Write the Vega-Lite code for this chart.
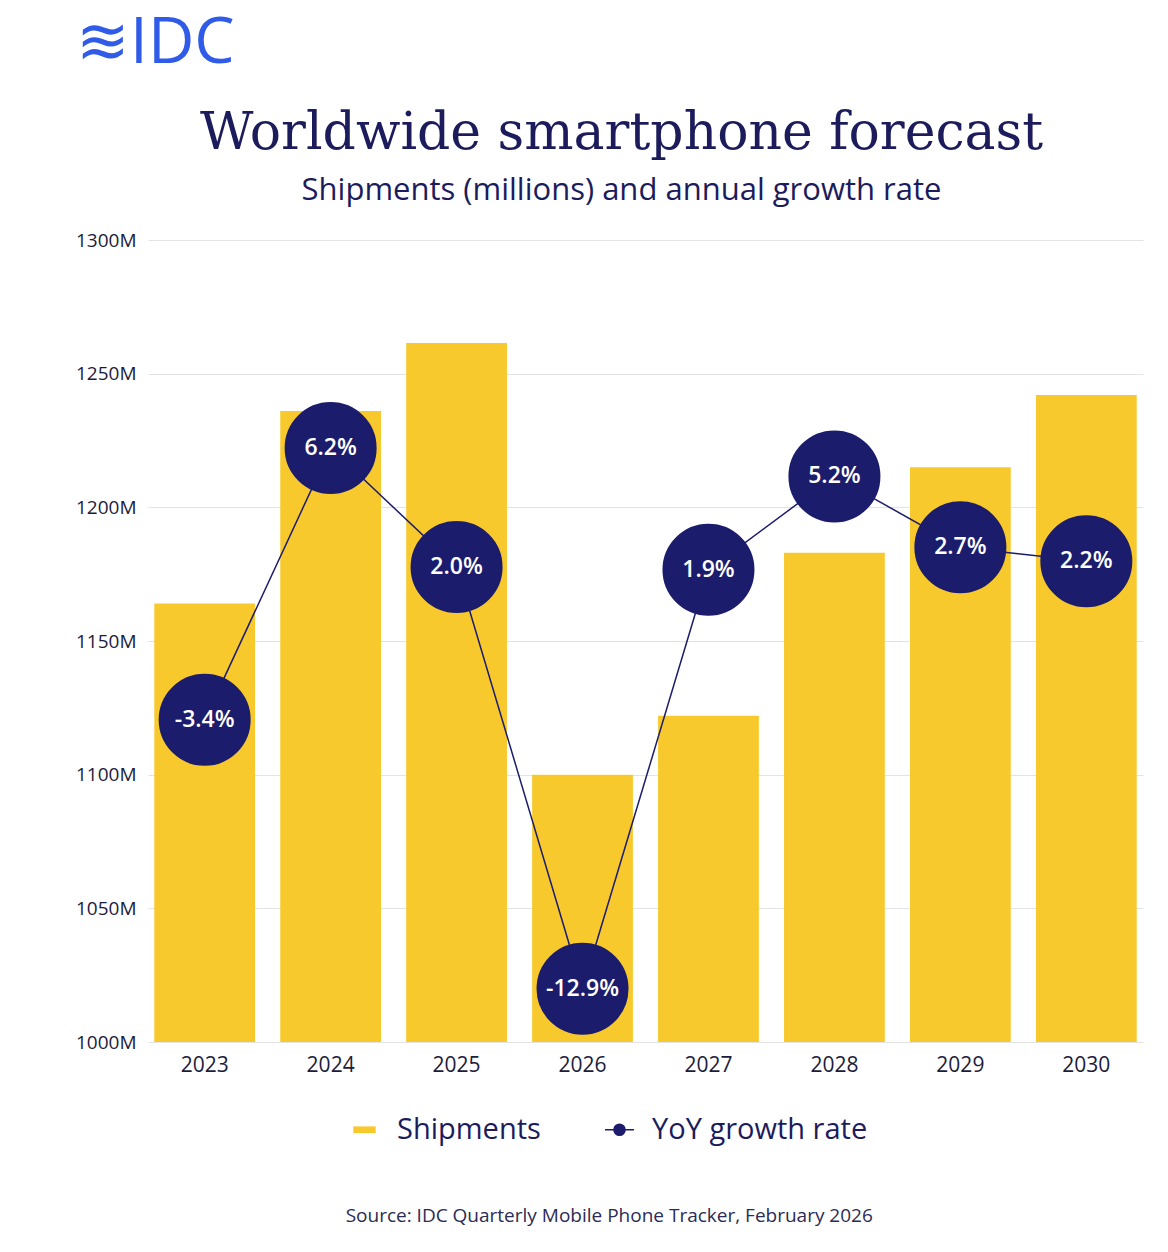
{
  "$schema": "https://vega.github.io/schema/vega-lite/v6.json",
  "background": "white",
  "padding": {"left": 75, "right": 20, "top": 10, "bottom": 10},
  "title": {"text": "Source:  IDC Quarterly Mobile Phone Tracker, February 2026", "orient": "bottom", "anchor": "middle", "font": "Open Sans", "fontSize": 19, "fontWeight": "normal", "color": "#2b2b55", "offset": 62},
  "config": {
    "view": {"stroke": null}, "font": "Open Sans", "concat": {"spacing": 0},
    "legend": {"orient": "bottom", "direction": "horizontal", "title": null, "labelFontSize": 29, "labelFontWeight": 500, "labelColor": "#1c1c5c", "labelLimit": 400, "symbolSize": 500, "symbolStrokeWidth": 0, "columnPadding": 60, "offset": 40, "labelOffset": 18, "layout": {"bottom": {"anchor": "middle"}}}
  },
  "datasets": {
    "fc": [
      {"year": "2023", "shipments": 1164, "growth": -3.4, "label": "-3.4%"},
      {"year": "2024", "shipments": 1236, "growth": 6.2, "label": "6.2%"},
      {"year": "2025", "shipments": 1261.5, "growth": 2.0, "label": "2.0%"},
      {"year": "2026", "shipments": 1100, "growth": -12.9, "label": "-12.9%"},
      {"year": "2027", "shipments": 1122, "growth": 1.9, "label": "1.9%"},
      {"year": "2028", "shipments": 1183, "growth": 5.2, "label": "5.2%"},
      {"year": "2029", "shipments": 1215, "growth": 2.7, "label": "2.7%"},
      {"year": "2030", "shipments": 1242, "growth": 2.2, "label": "2.2%"}
    ]
  },
  "vconcat": [
    {
      "width": 300, "height": 97,
      "data": {"values": [{"t": "≋IDC"}]},
      "mark": {"type": "text", "align": "left", "baseline": "middle", "font": "Open Sans", "fontSize": 64, "fontWeight": "normal", "color": "#2f5be8", "x": -72, "y": 34},
      "encoding": {"text": {"field": "t"}}
    },
    {
      "title": {"text": "Worldwide smartphone forecast", "subtitle": "Shipments (millions) and annual growth rate", "anchor": "middle", "dx": -24, "font": "DejaVu Serif", "fontSize": 52, "fontWeight": "normal", "color": "#1c1c5c", "subtitleFont": "Open Sans", "subtitleFontSize": 31, "subtitleFontWeight": 500, "subtitleColor": "#1c1c5c", "subtitlePadding": 16, "offset": 24},
      "width": 995, "height": 802,
      "data": {"name": "fc"},
      "encoding": {
        "x": {"field": "year", "type": "ordinal", "title": null, "scale": {"paddingInner": 0.2, "paddingOuter": 0.05},
          "axis": {"labelAngle": 0, "ticks": false, "domain": false, "labelFontSize": 21, "labelFontWeight": 500, "labelColor": "#1c1c3c", "labelPadding": 12}}
      },
      "layer": [
        {
          "mark": {"type": "bar", "color": "#f8c92c", "clip": true},
          "encoding": {
            "y": {"field": "shipments", "type": "quantitative", "title": null, "scale": {"domain": [1000, 1300]},
              "axis": {"values": [1000, 1050, 1100, 1150, 1200, 1250, 1300], "labelExpr": "datum.value + 'M'", "ticks": false, "domain": false, "labelFontSize": 19, "labelFontWeight": 500, "labelColor": "#1c1c3c", "gridColor": "#e3e3e3", "labelPadding": 12}},
            "y2": {"datum": 1000},
            "color": {"datum": "Shipments", "type": "nominal", "scale": {"domain": ["Shipments", "YoY growth rate"], "range": ["#f8c92c", "#1c1c6c"]},
              "legend": {"encode": {"symbols": {"update": {"shape": {"signal": "datum.label === 'Shipments' ? 'M-1,-0.3L1,-0.3L1,0.3L-1,0.3Z' : 'M-1.3,0L1.3,0M0.5,0A0.5,0.5,0,1,1,-0.5,0A0.5,0.5,0,1,1,0.5,0Z'"}, "stroke": {"value": "#1c1c6c"}, "strokeWidth": {"signal": "datum.label === 'Shipments' ? 0 : 1.5"}}}}}
            }
          }
        },
        {
          "mark": {"type": "line", "color": "#1c1c6c", "strokeWidth": 1.5},
          "encoding": {
            "y": {"field": "growth", "type": "quantitative", "scale": {"domain": [-14.78, 13.55]}, "axis": null}
          }
        },
        {
          "mark": {"type": "point", "filled": true, "size": 8100, "opacity": 1, "stroke": "#1c1c6c"},
          "encoding": {
            "y": {"field": "growth", "type": "quantitative", "scale": {"domain": [-14.78, 13.55]}, "axis": null},
            "color": {"datum": "YoY growth rate", "type": "nominal"}
          }
        },
        {
          "mark": {"type": "text", "color": "white", "fontSize": 23, "fontWeight": 600, "font": "Open Sans"},
          "encoding": {
            "y": {"field": "growth", "type": "quantitative", "scale": {"domain": [-14.78, 13.55]}, "axis": null},
            "text": {"field": "label"}
          }
        }
      ],
      "resolve": {"scale": {"y": "independent"}}
    }
  ]
}
